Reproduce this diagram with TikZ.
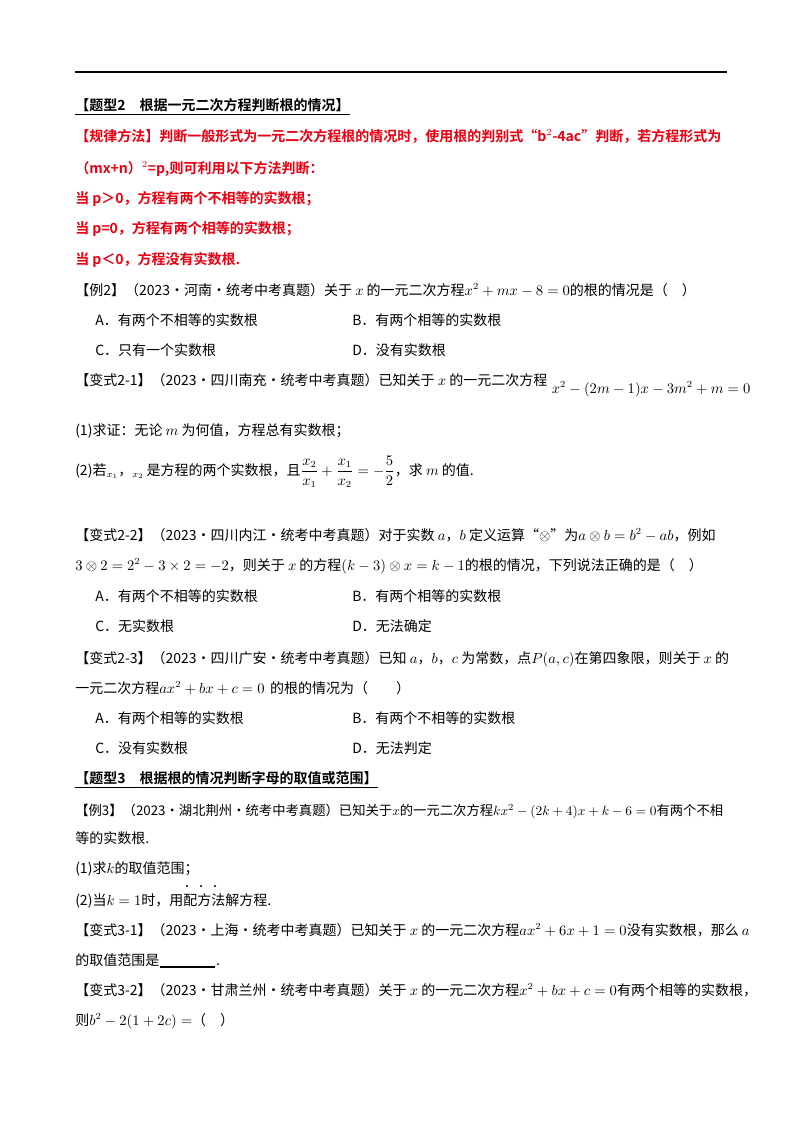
\documentclass[tikz,border=0pt]{standalone}
\usepackage{fontspec}
\setmainfont{Noto Sans CJK SC}[BoldFont={Noto Sans CJK SC Bold}]
\usepackage{amsmath,amssymb}
\definecolor{redt}{RGB}{230,0,18}
\begin{document}
\begin{tikzpicture}[x=0.75pt,y=-0.75pt,
  t/.style={anchor=base west,inner sep=0pt,font=\fontsize{10.5pt}{12pt}\selectfont},
  r/.style={t,text=redt,font=\fontsize{10.5pt}{12pt}\selectfont\bfseries}]
\useasboundingbox (0,0) rectangle (800,1132);
\fill[white] (0,0) rectangle (800,1132);
\draw[line width=1pt] (75,72) -- (727,72);
\node[t,font=\fontsize{10.5pt}{12pt}\selectfont\bfseries] (h1) at (75,110) {【题型2\quad 根据一元二次方程判断根的情况】};
\draw (75,114) -- (h1.east |- 0,114);
\node[r] (r1) at (75,141) {【规律方法】判断一般形式为一元二次方程根的情况时，使用根的判别式“b$^{2}$-4ac”判断，若方程形式为};
\node[r] (r2) at (75,173) {（mx+n）$^{2}$=p,则可利用以下方法判断：};
\node[r] (r3) at (75,203) {当 p＞0，方程有两个不相等的实数根；};
\node[r] (r4) at (75,233) {当 p=0，方程有两个相等的实数根；};
\node[r] (r5) at (75,264) {当 p＜0，方程没有实数根.};
\node[t] (e2) at (75,295) {【例2】（2023·河南·统考中考真题）关于 $x$ 的一元二次方程$x^2+mx-8=0$的根的情况是（\quad ）};
\node[t] (a1) at (95,325) {A．有两个不相等的实数根};
\node[t] (b1) at (352,325) {B．有两个相等的实数根};
\node[t] (c1) at (95,355) {C．只有一个实数根};
\node[t] (d1) at (352,355) {D．没有实数根};
\node[t] (v21) at (75,385) {【变式2-1】（2023·四川南充·统考中考真题）已知关于 $x$ 的一元二次方程};
\node[t] (v21f) at ([xshift=3pt]v21.east |- 0,393) {$x^2-(2m-1)x-3m^2+m=0$};
\node[t] (q1) at (75,435) {(1)求证：无论 $m$ 为何值，方程总有实数根；};
\node[t] (q2) at (75,475) {(2)若$_{x_1}$，$_{x_2}$\,是方程的两个实数根，且$\dfrac{x_2}{x_1}+\dfrac{x_1}{x_2}=-\dfrac{5}{2}$，求 $m$ 的值.};
\node[t] (v22) at (75,540) {【变式2-2】（2023·四川内江·统考中考真题）对于实数 $a$，$b$ 定义运算“$\otimes$”为$a\otimes b=b^2-ab$，例如};
\node[t] (v22b) at (75,570) {$3\otimes2=2^2-3\times2=-2$，则关于 $x$ 的方程$(k-3)\otimes x=k-1$的根的情况，下列说法正确的是（\quad ）};
\node[t] (a2) at (95,601) {A．有两个不相等的实数根};
\node[t] (b2) at (352,601) {B．有两个相等的实数根};
\node[t] (c2) at (95,631) {C．无实数根};
\node[t] (d2) at (352,631) {D．无法确定};
\node[t] (v23) at (75,663) {【变式2-3】（2023·四川广安·统考中考真题）已知 $a$，$b$，$c$ 为常数，点$P(a,c)$在第四象限，则关于 $x$ 的};
\node[t] (v23b) at (75,693) {一元二次方程$ax^2+bx+c=0$\, 的根的情况为（\qquad ）};
\node[t] (a3) at (95,723) {A．有两个相等的实数根};
\node[t] (b3) at (352,723) {B．有两个不相等的实数根};
\node[t] (c3) at (95,753) {C．没有实数根};
\node[t] (d3) at (352,753) {D．无法判定};
\node[t,font=\fontsize{10.5pt}{12pt}\selectfont\bfseries] (h2) at (75,783) {【题型3\quad 根据根的情况判断字母的取值或范围】};
\draw (75,787) -- (h2.east |- 0,787);
\node[t,font=\fontsize{10pt}{12pt}\selectfont] (e3) at (75,815) {【例3】（2023·湖北荆州·统考中考真题）已知关于$x$的一元二次方程$kx^2-(2k+4)x+k-6=0$有两个不相};
\node[t] (e3b) at (75,843) {等的实数根.};
\node[t] (p1) at (75,873) {(1)求$k$的取值范围；};
\node[t] (p2) at (75,905) {(2)当$k=1$时，用配方法解方程.};
\foreach \xx in {187,201,215} \fill (\xx,886) circle (1.1);
\node[t] (v31) at (75,935) {【变式3-1】（2023·上海·统考中考真题）已知关于 $x$ 的一元二次方程$ax^2+6x+1=0$没有实数根，那么 $a$};
\node[t] (v31b) at (75,965) {的取值范围是};
\draw[line width=0.8pt] (v31b.east |- 0,967) -- ++(55,0) coordinate (bl);
\node[t] (v31c) at ([xshift=1pt]bl |- 0,965) {.};
\node[t] (v32) at (75,995) {【变式3-2】（2023·甘肃兰州·统考中考真题）关于 $x$ 的一元二次方程$x^2+bx+c=0$有两个相等的实数根，};
\node[t] (v32b) at (75,1025) {则$b^2-2(1+2c)=$（\quad ）};
\end{tikzpicture}
\end{document}
